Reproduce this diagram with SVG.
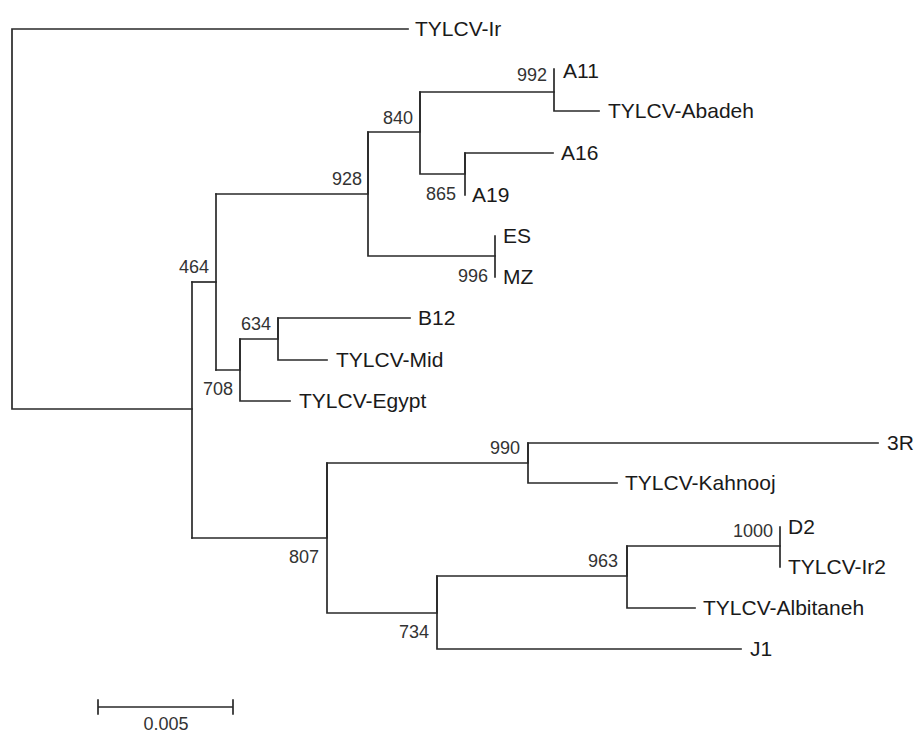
<svg xmlns="http://www.w3.org/2000/svg" width="919" height="733" viewBox="0 0 919 733">
<style>
.br{fill:none;stroke:#2a2a2a;stroke-width:1.7;stroke-linecap:square}
.lb{font-family:"Liberation Sans",Arial,sans-serif;font-size:21px;fill:#1a1a1a}
.bs{font-family:"Liberation Sans",Arial,sans-serif;font-size:18px;fill:#333;text-anchor:end}
.sc{font-family:"Liberation Sans",Arial,sans-serif;font-size:18px;fill:#333;text-anchor:middle}
</style>
<rect width="919" height="733" fill="#fff"/>
<g id="connectors">
<path class="br" d="M408,29H12V409H192"/>
<path class="br" d="M192,282V538"/>
<path class="br" d="M192,282H216"/>
<path class="br" d="M216,194V370"/>
<path class="br" d="M216,194H368V132H420V92H554"/>
<path class="br" d="M554,69V111H599"/>
<path class="br" d="M420,92V174H465V153H553"/>
<path class="br" d="M465,153V195"/>
<path class="br" d="M368,132V256H495"/>
<path class="br" d="M495,236V277"/>
<path class="br" d="M216,370H240V339H278V318H410"/>
<path class="br" d="M278,318V360H327"/>
<path class="br" d="M240,339V401H290"/>
<path class="br" d="M192,538H327V463H528V443H878"/>
<path class="br" d="M528,443V483H617"/>
<path class="br" d="M327,463V613H437V576H627V546H780"/>
<path class="br" d="M780,527V567"/>
<path class="br" d="M627,546V608H695"/>
<path class="br" d="M437,576V649H741"/>
</g>
<g id="leaf-TYLCV-Ir"><text class="lb" x="415" y="36">TYLCV-Ir</text></g>
<g id="leaf-A11"><text class="lb" x="563" y="78">A11</text></g>
<g id="leaf-TYLCV-Abadeh"><text class="lb" x="608" y="118">TYLCV-Abadeh</text></g>
<g id="leaf-A16"><text class="lb" x="561" y="160">A16</text></g>
<g id="leaf-A19"><text class="lb" x="472" y="202">A19</text></g>
<g id="leaf-ES"><text class="lb" x="503" y="243">ES</text></g>
<g id="leaf-MZ"><text class="lb" x="503" y="284">MZ</text></g>
<g id="leaf-B12"><text class="lb" x="418" y="325">B12</text></g>
<g id="leaf-TYLCV-Mid"><text class="lb" x="336" y="367">TYLCV-Mid</text></g>
<g id="leaf-TYLCV-Egypt"><text class="lb" x="299" y="408">TYLCV-Egypt</text></g>
<g id="leaf-3R"><text class="lb" x="887" y="450">3R</text></g>
<g id="leaf-TYLCV-Kahnooj"><text class="lb" x="625" y="490">TYLCV-Kahnooj</text></g>
<g id="leaf-D2"><text class="lb" x="788" y="534">D2</text></g>
<g id="leaf-TYLCV-Ir2"><text class="lb" x="788" y="574">TYLCV-Ir2</text></g>
<g id="leaf-TYLCV-Albitaneh"><text class="lb" x="703" y="615">TYLCV-Albitaneh</text></g>
<g id="leaf-J1"><text class="lb" x="750" y="656">J1</text></g>
<g id="boot-992"><text class="bs" x="547" y="81">992</text></g>
<g id="boot-840"><text class="bs" x="413" y="124">840</text></g>
<g id="boot-928"><text class="bs" x="362" y="185">928</text></g>
<g id="boot-865"><text class="bs" x="456" y="200">865</text></g>
<g id="boot-996"><text class="bs" x="488" y="282">996</text></g>
<g id="boot-464"><text class="bs" x="209" y="273">464</text></g>
<g id="boot-634"><text class="bs" x="271" y="330">634</text></g>
<g id="boot-708"><text class="bs" x="233" y="395">708</text></g>
<g id="boot-990"><text class="bs" x="520" y="454">990</text></g>
<g id="boot-807"><text class="bs" x="319" y="563">807</text></g>
<g id="boot-963"><text class="bs" x="618" y="567">963</text></g>
<g id="boot-1000"><text class="bs" x="773" y="537">1000</text></g>
<g id="boot-734"><text class="bs" x="429" y="638">734</text></g>
<g id="scale-bar">
<path class="br" d="M98,707H233M98,700V714M233,700V714"/>
<text class="sc" x="166" y="730">0.005</text>
</g>
</svg>
